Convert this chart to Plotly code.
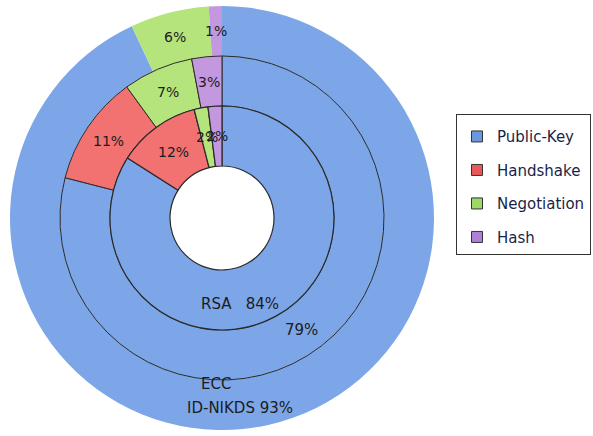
import math
import plotly.graph_objects as go

categories = ["Public-Key", "Handshake", "Negotiation", "Hash"]
rsa_vals = [84, 12, 2, 2]
ecc_vals = [79, 11, 7, 3]
idnikds_vals = [93, 0, 6, 1]
ring_names = ["RSA", "ECC", "ID-NIKDS"]

colors = ["#7CA6E7", "#F27272", "#B5E47C", "#C398DE"]
legend_colors = ["#6A98E0", "#E85A5A", "#9ED868", "#B07FD6"]

W, H = 593, 436
CX, CY = 222, 218
R_OUT, R_MID, R_IN, R_HOLE = 212, 162, 112, 52
FONT = "DejaVu Sans"
TXT = "#1c1c1c"


def dom(r):
    return dict(x=[(CX - r) / W, (CX + r) / W],
                y=[1 - (CY + r) / H, 1 - (CY - r) / H])


fig = go.Figure()
common = dict(labels=categories, sort=False, direction="clockwise", rotation=0,
              textinfo="none", showlegend=False, hoverinfo="label+value")

rings = [
    (idnikds_vals, R_MID, R_OUT, dict(color="#7CA6E7", width=0)),
    (ecc_vals, R_IN, R_MID, dict(color="#2a2a2a", width=1)),
    (rsa_vals, R_HOLE, R_IN, dict(color="#2a2a2a", width=1.2)),
]
for vals, r0, r1, line in rings:
    fig.add_trace(go.Pie(values=vals, domain=dom(r1), hole=r0 / r1,
                         marker=dict(colors=colors, line=line), **common))


def add_label(px, py, text, size=14):
    fig.add_annotation(x=px / W, y=1 - py / H, xref="paper", yref="paper",
                       xanchor="center", yanchor="middle", text=text, showarrow=False,
                       font=dict(family=FONT, size=size, color=TXT))


# slice labels at mid-angle / mid-radius of each non-main slice
for vals, r0, r1, _ in rings:
    total = sum(vals)
    cum = 0
    rm = (r0 + r1) / 2
    for i, v in enumerate(vals):
        if i > 0 and v > 0:
            a = (cum + v / 2) / total * 2 * math.pi
            add_label(CX + rm * math.sin(a), CY - rm * math.cos(a), f"{v}%")
        cum += v

# main (Public-Key) slice labels with ring names
NB = "\u00a0"
add_label(240, 304, f"{ring_names[0]}{NB}{NB}{NB}{rsa_vals[0]}%", 15)
add_label(302, 330, f"{ecc_vals[0]}%", 15)
add_label(216, 384, ring_names[1], 15)
add_label(240, 408, f"{ring_names[2]} {idnikds_vals[0]}%", 15)

# legend entries
for i, c in enumerate(categories):
    fig.add_trace(go.Scatter(x=[None], y=[None], mode="markers", name=c, legendgroup=c,
                             marker=dict(symbol="square", size=11, color=legend_colors[i],
                                         line=dict(color="#333", width=1))))

fig.update_layout(
    width=W, height=H, margin=dict(l=0, r=0, t=0, b=0),
    paper_bgcolor="white", plot_bgcolor="white",
    xaxis=dict(visible=False), yaxis=dict(visible=False),
    legend=dict(x=591 / W, y=1 - 114 / H, xanchor="right", yanchor="top",
                bordercolor="#333", borderwidth=1, bgcolor="white",
                font=dict(family=FONT, size=15, color="#1a1f4a"),
                title=dict(text=NB, font=dict(size=4)),
                tracegroupgap=11, itemwidth=30),
)

fig.write_html("out.html")
